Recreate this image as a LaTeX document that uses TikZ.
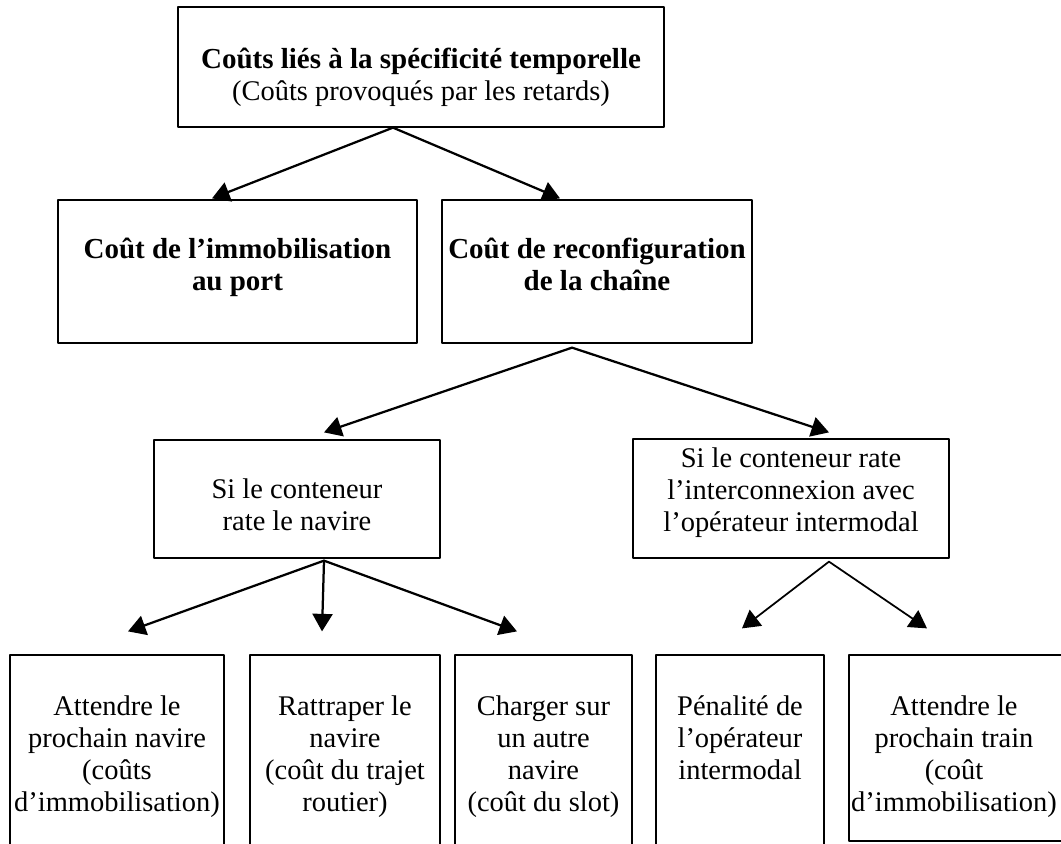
\documentclass[tikz,border=0pt]{standalone}
\usepackage{fontspec}
\setmainfont{Liberation Serif}
\usetikzlibrary{arrows.meta,calc,positioning}

\tikzset{
  boite/.style={draw, line width=0.026cm, inner sep=0pt},
  texte/.style={align=center, inner sep=0pt, anchor=base, font=\fontsize{16.2}{18.2}\selectfont},
  gras/.style={texte, font=\fontsize{16.5}{18.2}\selectfont\bfseries},
  fleche/.style={->, line width=0.045cm},
}

\begin{document}
\begin{tikzpicture}[x=0.02cm, y=-0.02cm, line cap=round, line join=round, >={Triangle[length=0.35cm,width=0.4cm]}]
\useasboundingbox (0,0) rectangle (1061,843);
\clip (0,0) rectangle (1061,843);

% niveau 1
\node[boite, minimum width=9.72cm, minimum height=2.4cm] (couts) at (421,67) {};
\node[texte] (couts-t) at (421,100) {{\fontsize{16.5}{18.2}\selectfont\bfseries Coûts liés à la spécificité temporelle}\\(Coûts provoqués par les retards)};

% niveau 2
\node[boite, minimum width=7.18cm, minimum height=2.86cm] (immo) at (237.5,271.5) {};
\node[boite, minimum width=6.2cm, minimum height=2.86cm] (reconf) at (597,271.5) {};
\node[gras] (immo-t) at (237.5,290) {Coût de l’immobilisation\\au port};
\node[gras] (reconf-t) at (597,290) {Coût de reconfiguration\\de la chaîne};

% niveau 3
\node[boite, minimum width=5.72cm, minimum height=2.36cm] (navire) at (297,499) {};
\node[boite, minimum width=6.32cm, minimum height=2.38cm] (interco) at (791,498.5) {};
\node[texte] (navire-t) at (297,530) {Si le conteneur\\rate le navire};
\node[texte] (interco-t) at (791,531) {Si le conteneur rate\\l’interconnexion avec\\l’opérateur intermodal};

% niveau 4 (coupé en bas)
\node[boite, minimum width=4.28cm, minimum height=4cm] (attnav) at (117,755) {};
\node[boite, minimum width=3.8cm, minimum height=4cm] (rattr) at (345,755) {};
\node[boite, minimum width=3.54cm, minimum height=4cm] (charger) at (543.5,755) {};
\node[boite, minimum width=3.36cm, minimum height=4cm] (penal) at (740,755) {};
\node[boite, minimum width=4.32cm, minimum height=3.72cm] (atttrain) at (957,748) {};
\node[texte] (attnav-t) at (117,811) {Attendre le\\prochain navire\\(coûts\\d’immobilisation)};
\node[texte] (rattr-t) at (345,811) {Rattraper le\\navire\\(coût du trajet\\routier)};
\node[texte] (charger-t) at (543.5,811) {Charger sur\\un autre\\navire\\(coût du slot)};
\node[texte] (penal-t) at (740,779) {Pénalité de\\l’opérateur\\intermodal};
\node[texte] (atttrain-t) at (954,811) {Attendre le\\prochain train\\(coût\\d’immobilisation)};

% fleches
\draw[fleche] ($(couts.south)+(-28,0)$) -- ($(immo.north)+(-25.5,-1)$);
\draw[fleche] ($(couts.south)+(-28,0)$) -- ($(reconf.north)+(-37,-1)$);
\draw[fleche] ($(reconf.south)+(-25,4)$) -- ($(navire.north)+(27,-7)$);
\draw[fleche] ($(reconf.south)+(-25,4)$) -- ($(interco.north)+(38,-6)$);
\draw[fleche] ($(navire.south)+(27,2)$) -- ($(attnav.north)+(11,-23)$);
\draw[fleche] ($(navire.south)+(27,2)$) -- ($(rattr.north)+(-23,-23)$);
\draw[fleche] ($(navire.south)+(27,2)$) -- ($(charger.north)+(-26.5,-23)$);
\draw[fleche, line width=0.035cm] ($(interco.south)+(38,3)$) -- ($(penal.north)+(2,-26)$);
\draw[fleche, line width=0.035cm] ($(interco.south)+(38,3)$) -- ($(atttrain.north)+(-30,-26)$);
\end{tikzpicture}
\end{document}
